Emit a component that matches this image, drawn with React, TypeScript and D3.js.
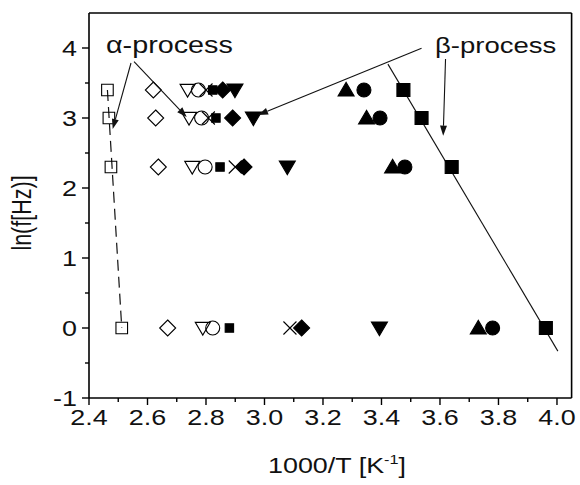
import React from 'react';
import * as d3 from 'd3';

// ---- data (1000/T values read per frequency row) ----
const rowsLnF = [3.4, 3.0, 2.3, 0];
const openSquareX = [2.463, 2.468, 2.475, 2.512];
const openDiamondX = [2.62, 2.628, 2.637, 2.669];
const openTriDownX = [2.737, 2.742, 2.753, 2.789];
const openCircleX = [2.774, 2.785, 2.797, 2.823];
const crossX = [2.8, 2.808, 2.9, 3.087];
const smallSquareX = [2.823, 2.834, 2.848, 2.88];
const filledDiamondX = [2.857, 2.891, 2.93, 3.127];
const filledTriDownX = [2.899, 2.962, 3.078, 3.393];
const filledTriUpX = [3.279, 3.349, 3.438, 3.731];
const filledCircleX = [3.34, 3.395, 3.48, 3.78];
const filledSquareX = [3.475, 3.537, 3.64, 3.962];

const xTicks = [2.4, 2.6, 2.8, 3.0, 3.2, 3.4, 3.6, 3.8, 4.0];
const xMinor = [2.5, 2.7, 2.9, 3.1, 3.3, 3.5, 3.7, 3.9];
const yTicks = [-1, 0, 1, 2, 3, 4];
const yMinor = [-0.5, 0.5, 1.5, 2.5, 3.5];

// fit line through beta-process points (1000/T, lnf)
const betaFitX = [3.422, 4.003];
const betaFitY = [3.77, -0.33];
// annotation arrows: [x0, y0, x1, y1] in data units
const alphaArrowLeft = [2.5436, 3.786, 2.481, 2.843];
const alphaArrowRight = [2.554, 3.805, 2.734, 3.014];
const betaArrowLeft = [3.537, 3.996, 2.978, 3.043];
const betaArrowDown = [3.619, 3.843, 3.611, 2.747];

const FONT = "'Liberation Sans', Arial, sans-serif";
const SX = 1.25;

const x = d3.scaleLinear().domain([2.4, 4.05]).range([89, 571.6]);
const y = d3.scaleLinear().domain([-1, 4.5]).range([398, 13]);

type Shape = 'square' | 'diamond' | 'triDown' | 'triUp' | 'circle' | 'cross';

const series: { xs: number[]; shape: Shape; filled: boolean; r: number }[] = [
  { xs: openSquareX, shape: 'square', filled: false, r: 5.8 },
  { xs: openDiamondX, shape: 'diamond', filled: false, r: 8 },
  { xs: openTriDownX, shape: 'triDown', filled: false, r: 7.5 },
  { xs: crossX, shape: 'cross', filled: false, r: 6.5 },
  { xs: openCircleX, shape: 'circle', filled: false, r: 7 },
  { xs: smallSquareX, shape: 'square', filled: true, r: 4.2 },
  { xs: filledDiamondX, shape: 'diamond', filled: true, r: 8 },
  { xs: filledTriDownX, shape: 'triDown', filled: true, r: 8 },
  { xs: filledTriUpX, shape: 'triUp', filled: true, r: 8 },
  { xs: filledCircleX, shape: 'circle', filled: true, r: 7 },
  { xs: filledSquareX, shape: 'square', filled: true, r: 6.5 },
];

function markerPath(shape: Shape, cx: number, cy: number, r: number): string {
  const p = d3.path();
  if (shape === 'square') {
    p.rect(cx - r, cy - r, 2 * r, 2 * r);
  } else if (shape === 'diamond') {
    p.moveTo(cx, cy - r); p.lineTo(cx + r, cy); p.lineTo(cx, cy + r); p.lineTo(cx - r, cy); p.closePath();
  } else if (shape === 'triDown') {
    p.moveTo(cx - r, cy - r * 0.75); p.lineTo(cx + r, cy - r * 0.75); p.lineTo(cx, cy + r * 0.95); p.closePath();
  } else if (shape === 'triUp') {
    p.moveTo(cx - r, cy + r * 0.75); p.lineTo(cx + r, cy + r * 0.75); p.lineTo(cx, cy - r * 0.95); p.closePath();
  } else if (shape === 'circle') {
    p.moveTo(cx + r, cy); p.arc(cx, cy, r, 0, 2 * Math.PI);
  } else if (shape === 'cross') {
    p.moveTo(cx - r, cy - r); p.lineTo(cx + r, cy + r); p.moveTo(cx - r, cy + r); p.lineTo(cx + r, cy - r);
  }
  return p.toString();
}

function Arrow({ a }: { a: number[] }) {
  const x0 = x(a[0]), y0 = y(a[1]), x1 = x(a[2]), y1 = y(a[3]);
  const ang = Math.atan2(y1 - y0, x1 - x0);
  const L = 10, Wd = 3.5;
  const bx = x1 - L * Math.cos(ang), by = y1 - L * Math.sin(ang);
  const px = -Math.sin(ang) * Wd, py = Math.cos(ang) * Wd;
  return (
    <g>
      <line x1={x0} y1={y0} x2={bx} y2={by} stroke="#111" strokeWidth={1.1} />
      <path d={`M${x1},${y1}L${bx + px},${by + py}L${bx - px},${by - py}Z`} fill="#111" />
    </g>
  );
}

function SText({ px, py, anchor, size, children }: any) {
  return (
    <text transform={`translate(${px},${py}) scale(${SX},1)`} textAnchor={anchor} fontSize={size} fontFamily={FONT} fill="#111">
      {children}
    </text>
  );
}

export default function App() {
  const x0 = x.range()[0], x1 = x.range()[1];
  const yb = y.range()[0], yt = y.range()[1];
  return (
    <svg width={580} height={485} style={{ position: 'absolute', left: 0, top: 0, background: '#fff' }}>
      <rect x={0} y={0} width={580} height={485} fill="#fff" />
      {/* frame */}
      <line x1={x0} y1={yt} x2={x1} y2={yt} stroke="#000" strokeWidth={1.6} />
      <line x1={x1} y1={yt} x2={x1} y2={yb} stroke="#000" strokeWidth={1.6} />
      <line x1={x0} y1={yt} x2={x0} y2={yb} stroke="#000" strokeWidth={1.6} />
      <line x1={x0} y1={yb} x2={x1} y2={yb} stroke="#000" strokeWidth={1.6} />
      {/* x ticks */}
      {xTicks.map(t => (
        <g key={'xt' + t}>
          <line x1={x(t)} x2={x(t)} y1={yb} y2={yb + 7} stroke="#000" strokeWidth={1.4} />
          <SText px={x(t)} py={yb + 27} anchor="middle" size={21.5}>{t.toFixed(1)}</SText>
        </g>
      ))}
      {xMinor.map(t => (
        <line key={'xm' + t} x1={x(t)} x2={x(t)} y1={yb} y2={yb + 4} stroke="#000" strokeWidth={1.4} />
      ))}
      {/* y ticks */}
      {yTicks.map(t => (
        <g key={'yt' + t}>
          <line x1={x0 - 7} x2={x0} y1={y(t)} y2={y(t)} stroke="#000" strokeWidth={1.4} />
          <SText px={x0 - 12} py={y(t) + 7.5} anchor="end" size={21.5}>{String(t)}</SText>
        </g>
      ))}
      {yMinor.map(t => (
        <line key={'ym' + t} x1={x0 - 4} x2={x0} y1={y(t)} y2={y(t)} stroke="#000" strokeWidth={1.4} />
      ))}
      {/* axis titles */}
      <text transform={`translate(31,213) scale(${SX},1) rotate(-90)`} textAnchor="middle" fontSize={21.5} fontFamily={FONT} fill="#111">
        ln(f[Hz)]
      </text>
      <text transform={`translate(337,473) scale(${SX},1)`} textAnchor="middle" fontSize={21.5} fontFamily={FONT} fill="#111">
        1000/T [K<tspan fontSize={13} dy={-9}>-1</tspan><tspan dy={9}>]</tspan>
      </text>
      {/* alpha dashed line through open squares */}
      <line x1={x(openSquareX[0])} y1={y(rowsLnF[0])} x2={x(openSquareX[3])} y2={y(rowsLnF[3])}
        stroke="#111" strokeWidth={1.2} strokeDasharray="11,6" />
      {/* beta fit */}
      <line x1={x(betaFitX[0])} y1={y(betaFitY[0])} x2={x(betaFitX[1])} y2={y(betaFitY[1])} stroke="#111" strokeWidth={1.1} />
      {/* markers */}
      {series.map((s, i) => (
        <g key={'s' + i}>
          {s.xs.map((v, j) => (
            <path key={j} d={markerPath(s.shape, x(v), y(rowsLnF[j]), s.r)}
              fill={s.filled ? '#000' : 'none'} stroke="#000" strokeWidth={1.1} />
          ))}
        </g>
      ))}
      {/* annotations */}
      <Arrow a={alphaArrowLeft} />
      <Arrow a={alphaArrowRight} />
      <Arrow a={betaArrowLeft} />
      <Arrow a={betaArrowDown} />
      <SText px={106} py={53} anchor="start" size={23}>α-process</SText>
      <SText px={435} py={53} anchor="start" size={22}>β-process</SText>
    </svg>
  );
}
